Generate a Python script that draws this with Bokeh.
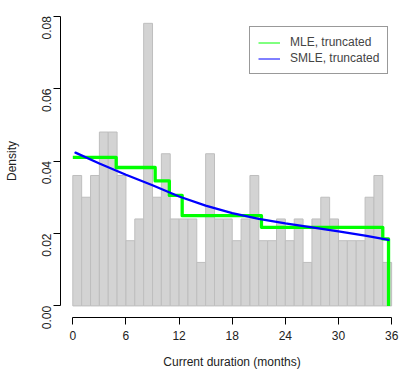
from bokeh.plotting import figure
from bokeh.models import FixedTicker, PrintfTickFormatter, Range1d, Legend, LegendItem
from bokeh.embed import file_html
from bokeh.resources import INLINE
import math

# Histogram: bin edges (months) and density per 1-month bin
bin_edges = list(range(0, 37))
hist_density = [0.036, 0.030, 0.036, 0.048, 0.048, 0.036, 0.018, 0.024, 0.078, 0.030,
                0.042, 0.024, 0.024, 0.024, 0.012, 0.042, 0.024, 0.024, 0.018, 0.024,
                0.036, 0.018, 0.018, 0.024, 0.018, 0.024, 0.012, 0.024, 0.030, 0.024,
                0.018, 0.018, 0.018, 0.030, 0.036, 0.012]

# MLE (truncated) step function
mle_x = [0.0, 4.9, 9.3, 10.9, 12.35, 21.3, 35.0, 35.65]
mle_y = [0.0410, 0.0382, 0.0345, 0.0305, 0.0249, 0.0217, 0.0185, 0.0]

# SMLE (truncated) smooth curve
smle_x = [0.3, 3, 6, 9, 12, 15, 18, 21, 24, 27, 30, 33, 35.65]
smle_y = [0.0423, 0.0393, 0.0362, 0.0333, 0.0302, 0.0277, 0.0256, 0.0240, 0.0228,
          0.0217, 0.0206, 0.0194, 0.0182]

x_ticks = [0, 6, 12, 18, 24, 30, 36]
y_ticks = [0.00, 0.02, 0.04, 0.06, 0.08]

FONT = "Liberation Sans"
GREEN = "#00FF00"
BLUE = "#0000FF"

p = figure(width=403, height=378, output_backend="svg", toolbar_location=None,
           x_range=Range1d(-1.39, 37.34), y_range=Range1d(-0.0032, 0.0832),
           min_border_left=60, min_border_right=0, min_border_top=4, min_border_bottom=61)
p.outline_line_color = None
p.xgrid.visible = False
p.ygrid.visible = False
p.background_fill_color = "white"
p.border_fill_color = "white"

p.quad(left=bin_edges[:-1], right=bin_edges[1:], top=hist_density, bottom=0,
       fill_color="#D3D3D3", line_color="#BEBEBE", line_width=1)

p.step(mle_x, mle_y, mode="after", line_color=GREEN, line_width=3.3, line_join="round")
p.line(smle_x, smle_y, line_color=BLUE, line_width=2.3, line_cap="round")

# thin-line proxies for the legend keys (no visible data)
nan = float("nan")
leg_mle = p.line(x=[nan, nan], y=[nan, nan], line_color=GREEN, line_width=1)
leg_smle = p.line(x=[nan, nan], y=[nan, nan], line_color=BLUE, line_width=1)

for ax in (p.xaxis[0], p.yaxis[0]):
    ax.axis_line_color = "black"
    ax.major_tick_line_color = "black"
    ax.minor_tick_line_color = None
    ax.major_tick_out = 7
    ax.major_tick_in = 0
    ax.major_label_text_font = FONT
    ax.major_label_text_font_size = "12px"
    ax.major_label_text_color = "#222222"
    ax.axis_label_text_font = FONT
    ax.axis_label_text_font_size = "12px"
    ax.axis_label_text_font_style = "normal"
    ax.axis_label_text_color = "#222222"

p.xaxis.ticker = FixedTicker(ticks=x_ticks)
p.xaxis.bounds = (0, 36)
p.xaxis.axis_label = "Current duration (months)"
p.xaxis.major_label_standoff = 6
p.xaxis.axis_label_standoff = 12

p.yaxis.ticker = FixedTicker(ticks=y_ticks)
p.yaxis.bounds = (0, 0.08)
p.yaxis.formatter = PrintfTickFormatter(format="%.2f")
p.yaxis.major_label_orientation = math.pi / 2
p.yaxis.axis_label = "Density"
p.yaxis.major_label_standoff = 7
p.yaxis.axis_label_standoff = 16

legend = Legend(items=[LegendItem(label="MLE, truncated", renderers=[leg_mle]),
                       LegendItem(label="SMLE, truncated", renderers=[leg_smle])],
                location=(189, 243), orientation="vertical",
                label_text_font=FONT, label_text_font_size="12px",
                glyph_width=22, glyph_height=13, label_height=13, spacing=2,
                padding=8, margin=0, label_standoff=10,
                border_line_color="#333333", border_line_width=1,
                background_fill_color="white", background_fill_alpha=1.0)
legend.item_background_fill_alpha = 0
p.add_layout(legend)

open("out.html", "w").write(file_html(p, INLINE))
